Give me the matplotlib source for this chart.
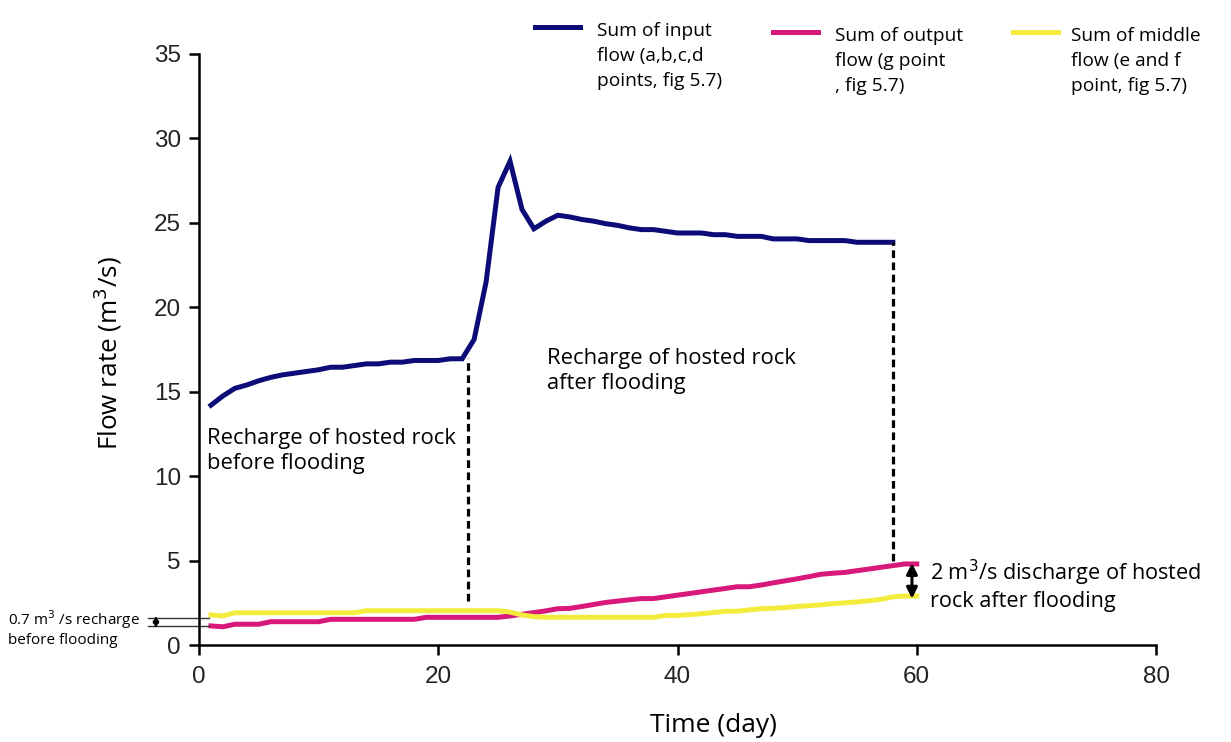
import matplotlib
matplotlib.use('Agg')
import matplotlib.pyplot as plt
from matplotlib.lines import Line2D
import numpy as np

# values
days_in = list(range(1, 59))
input_flow = [14.2, 14.75, 15.2, 15.4, 15.65, 15.85, 16.0, 16.1, 16.2, 16.3,
              16.45, 16.45, 16.55, 16.65, 16.65, 16.75, 16.75, 16.85, 16.85, 16.85,
              16.95, 16.95, 18.1, 21.5, 27.1, 28.65, 25.8, 24.65, 25.1, 25.45,
              25.35, 25.2, 25.1, 24.95, 24.85, 24.7, 24.6, 24.6, 24.5, 24.4,
              24.4, 24.4, 24.3, 24.3, 24.2, 24.2, 24.2, 24.05, 24.05, 24.05,
              23.95, 23.95, 23.95, 23.95, 23.85, 23.85, 23.85, 23.85]

days_out = list(range(1, 61))
output_flow = [1.13, 1.08, 1.23, 1.23, 1.23, 1.38, 1.38, 1.38, 1.38, 1.38,
               1.52, 1.52, 1.52, 1.52, 1.52, 1.52, 1.52, 1.52, 1.64, 1.64,
               1.64, 1.64, 1.64, 1.64, 1.64, 1.72, 1.82, 1.92, 2.02, 2.15,
               2.17, 2.28, 2.4, 2.52, 2.6, 2.68, 2.75, 2.75, 2.85, 2.95,
               3.05, 3.15, 3.25, 3.35, 3.45, 3.45, 3.55, 3.68, 3.8, 3.92,
               4.05, 4.19, 4.25, 4.3, 4.4, 4.5, 4.6, 4.7, 4.8, 4.8]
middle_flow = [1.78, 1.72, 1.91, 1.91, 1.91, 1.91, 1.91, 1.91, 1.91, 1.91,
               1.91, 1.91, 1.91, 2.03, 2.03, 2.03, 2.03, 2.03, 2.03, 2.03,
               2.03, 2.03, 2.03, 2.03, 2.03, 1.95, 1.78, 1.68, 1.64, 1.64,
               1.64, 1.64, 1.64, 1.64, 1.64, 1.64, 1.64, 1.64, 1.75, 1.75,
               1.8, 1.85, 1.92, 2.0, 2.0, 2.08, 2.15, 2.17, 2.22, 2.28,
               2.33, 2.38, 2.45, 2.5, 2.55, 2.62, 2.7, 2.85, 2.9, 2.9]

labels = ['Sum of input\nflow (a,b,c,d\npoints, fig 5.7)',
          'Sum of output\nflow (g point\n, fig 5.7)',
          'Sum of middle\nflow (e and f\npoint, fig 5.7)']
colors = ['#0c0c78', '#d8197a', '#f4ec3c']

txt_font = 'Open Sans'
tick_font = 'Liberation Sans'

fig = plt.figure(figsize=(12.31, 7.42), dpi=100)
ax = fig.add_axes([199 / 1231, 97 / 742, (1156 - 199) / 1231, (645 - 54) / 742])

ax.plot(days_in, input_flow, color=colors[0], lw=3.6, solid_joinstyle='miter')
ax.plot(days_out, output_flow, color=colors[1], lw=3.6)
ax.plot(days_out, middle_flow, color=colors[2], lw=3.6)

# dashed markers at the start / end of flooding
ax.plot([22.5, 22.5], [2.6, 17.0], color='black', lw=2.3, ls=(0, (2.4, 1.4)))
ax.plot([58.0, 58.0], [5.0, 23.85], color='black', lw=2.3, ls=(0, (2.4, 1.4)))

ax.set_xlim(0, 80)
ax.set_ylim(0, 35)
ax.set_xticks([0, 20, 40, 60, 80])
ax.set_yticks(range(0, 36, 5))
for s in ['top', 'right']:
    ax.spines[s].set_visible(False)
for s in ['left', 'bottom']:
    ax.spines[s].set_linewidth(1.8)
ax.tick_params(direction='out', length=7, width=1.8, labelsize=17.5)
for lab in ax.get_xticklabels() + ax.get_yticklabels():
    lab.set_fontfamily(tick_font)
    lab.set_color('#222222')
ax.tick_params(axis='x', pad=8)
ax.tick_params(axis='y', pad=6)

fig.text(713 / 1231, 1 - 725 / 742, 'Time (day)', ha='center', va='center',
         fontsize=19, family=txt_font)
fig.text(108 / 1231, 1 - 353 / 742, 'Flow rate (m$^3$/s)', ha='center', va='center',
         rotation=90, fontsize=18.8, family=txt_font)

# annotations
ax.text(0.67, 11.5, 'Recharge of hosted rock\nbefore flooding', ha='left', va='center',
        fontsize=15.8, family=txt_font, linespacing=1.25)
ax.text(29.1, 16.2, 'Recharge of hosted rock\nafter flooding', ha='left', va='center',
        fontsize=15.8, family=txt_font, linespacing=1.25)
ax.text(61.1, 3.55, '2 m$^3$/s discharge of hosted\nrock after flooding', ha='left',
        va='center', fontsize=15.6, family=txt_font, linespacing=1.2)

ax.annotate('', xy=(59.6, 2.75), xytext=(59.6, 4.85),
            arrowprops=dict(arrowstyle='<|-|>', color='black', lw=2.2,
                            mutation_scale=16, shrinkA=0, shrinkB=0),
            annotation_clip=False)

# left side marker for the 0.7 m3/s gap
ax.plot([-4.3, 0.8], [1.6, 1.6], color='#333333', lw=1.0, clip_on=False)
ax.plot([-4.3, 0.8], [1.12, 1.12], color='#333333', lw=1.0, clip_on=False)
ax.annotate('', xy=(-3.6, 1.0), xytext=(-3.6, 1.72),
            arrowprops=dict(arrowstyle='<|-|>', color='black', lw=1.2,
                            mutation_scale=9, shrinkA=0, shrinkB=0),
            annotation_clip=False)
fig.text(8 / 1231, 1 - 628 / 742, '0.7 m$^3$ /s recharge\nbefore flooding', ha='left',
         va='center', fontsize=11, family=txt_font, linespacing=1.2)

# legend drawn by hand so the handle sits on the first text line
leg_x = [(535, 580, 597, 27, 27), (773, 818, 835, 32, 32), (1013, 1058, 1071, 32, 32)]
for (x0, x1, xt, yl, yt), lab, c in zip(leg_x, labels, colors):
    fig.add_artist(Line2D([x0 / 1231, x1 / 1231], [1 - yl / 742, 1 - yl / 742],
                          color=c, lw=3.6, transform=fig.transFigure))
    fig.text(xt / 1231, 1 - (yt + 29) / 742, lab, ha='left', va='center',
             fontsize=13.8, family=txt_font, linespacing=1.5)

fig.savefig('out.png', dpi=100, facecolor='white')
